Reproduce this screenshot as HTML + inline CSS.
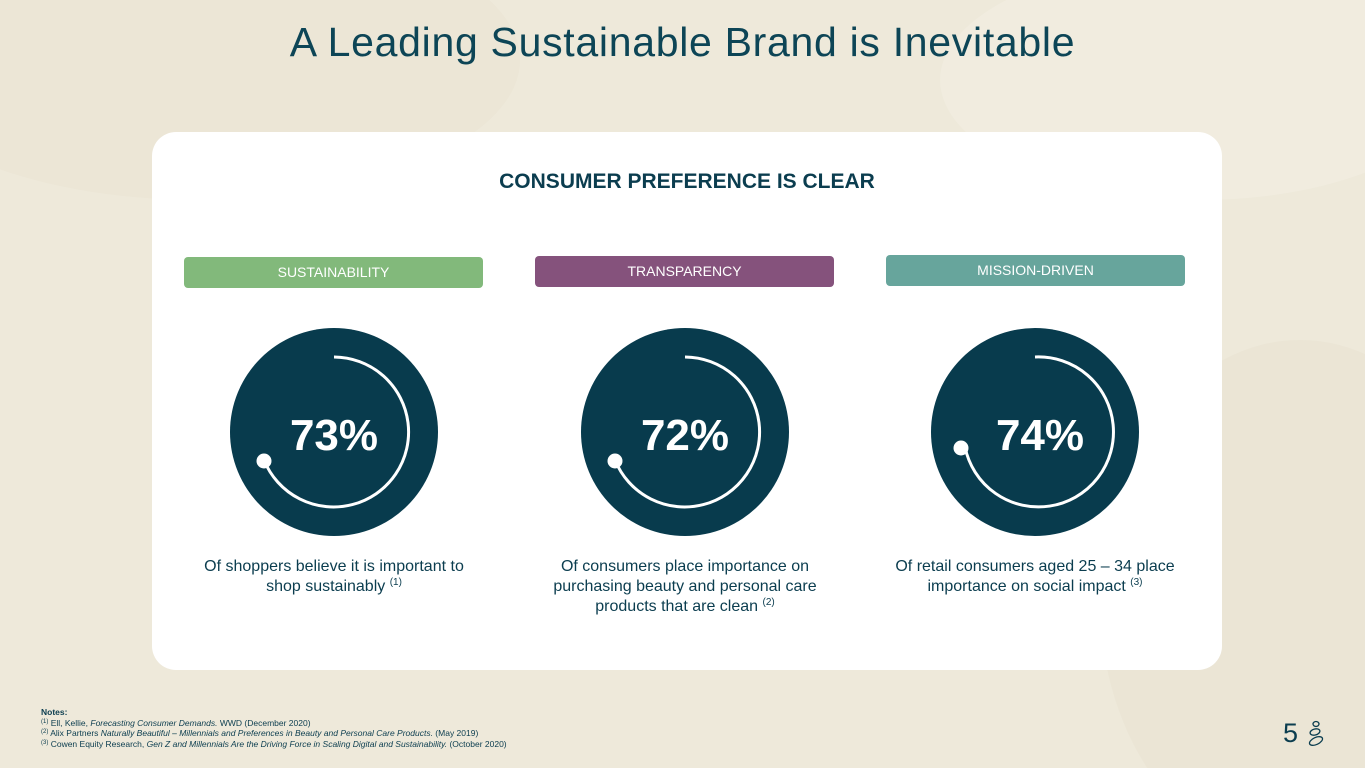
<!DOCTYPE html>
<html style="overflow:hidden"><head><meta charset="utf-8"><style>
body{margin:0;width:1365px;height:768px;overflow:hidden;background:#eee9da;font-family:"Liberation Sans",sans-serif;position:relative}
.abs{position:absolute}
svg{display:block}
h1{position:absolute;top:19px;left:0;width:1365px;text-align:center;margin:0;font-weight:normal;font-size:41px;color:#0d4556;letter-spacing:0.7px}
.card{left:152px;top:132px;width:1070px;height:538px;background:#fff;border-radius:24px}
.tag{height:31px;width:299px;border-radius:4px;color:#fff;font-size:14px;text-align:center;line-height:31px}
.desc{width:300px;text-align:center;color:#0b3d4f;font-size:16px;line-height:20px}
sup{font-size:10px;line-height:0;vertical-align:6px}
.notes{left:41px;top:707px;font-size:8.5px;color:#0b3d4f;line-height:10.5px;white-space:nowrap}
.notes sup{font-size:6px;vertical-align:3px}
</style></head><body>
<svg class="abs" style="left:0;top:0" width="1365" height="768">
<ellipse cx="200" cy="60" rx="320" ry="140" fill="#e9e3d2" opacity=".5"/>
<ellipse cx="1200" cy="80" rx="260" ry="120" fill="#f3efe4" opacity=".5"/>
<ellipse cx="1300" cy="600" rx="200" ry="260" fill="#e8e2d0" opacity=".5"/>
</svg>
<h1>A Leading Sustainable Brand is Inevitable</h1>
<div class="abs card"></div>
<div class="abs" style="left:152px;width:1070px;top:170px;text-align:center;font-weight:bold;font-size:21px;color:#0b3d4f">CONSUMER PREFERENCE IS CLEAR</div>
<div class="abs tag" style="left:184px;top:257px;background:#82b97b">SUSTAINABILITY</div>
<div class="abs tag" style="left:535px;top:256px;background:#85527c">TRANSPARENCY</div>
<div class="abs tag" style="left:886px;top:255px;background:#67a59c">MISSION-DRIVEN</div>
<svg class="abs" style="left:0;top:0" width="1365" height="768">
<g font-family="Liberation Sans" font-weight="bold" font-size="44" fill="#fff" text-anchor="middle">
<circle cx="334" cy="432" r="104" fill="#083b4d"/>
<path d="M334,357 A75,75 0 1 1 264,460" fill="none" stroke="#fff" stroke-width="3"/>
<circle cx="264" cy="461" r="7.5" fill="#fff"/>
<text x="334" y="450">73%</text>
<circle cx="685" cy="432" r="104" fill="#083b4d"/>
<path d="M685,357 A75,75 0 1 1 615,460" fill="none" stroke="#fff" stroke-width="3"/>
<circle cx="615" cy="461" r="7.5" fill="#fff"/>
<text x="685" y="450">72%</text>
<circle cx="1035" cy="432" r="104" fill="#083b4d"/>
<path d="M1035,357 A75,75 0 1 1 965,447" fill="none" stroke="#fff" stroke-width="3"/>
<circle cx="961" cy="448" r="7.5" fill="#fff"/>
<text x="1040" y="450">74%</text>
</g></svg>
<div class="abs desc" style="left:189px;top:557px;width:290px">Of shoppers believe it is important to shop sustainably <sup>(1)</sup></div>
<div class="abs desc" style="left:535px;top:557px">Of consumers place importance on purchasing beauty and personal care products that are clean <sup>(2)</sup></div>
<div class="abs desc" style="left:880px;top:557px;width:310px">Of retail consumers aged 25 – 34 place importance on social impact <sup>(3)</sup></div>
<div class="abs notes"><b>Notes:</b><br><sup>(1)</sup> Ell, Kellie, <i>Forecasting Consumer Demands.</i> WWD (December 2020)<br><sup>(2)</sup> Alix Partners <i>Naturally Beautiful – Millennials and Preferences in Beauty and Personal Care Products.</i> (May 2019)<br><sup>(3)</sup> Cowen Equity Research, <i>Gen Z and Millennials Are the Driving Force in Scaling Digital and Sustainability.</i> (October 2020)</div>
<div class="abs" style="left:1283px;top:718px;font-size:27px;line-height:30px;color:#0b3d4f">5</div>
<svg class="abs" style="left:1305px;top:720px" width="24" height="28"><g fill="none" stroke="#0b3d4f" stroke-width="1.3"><ellipse cx="11" cy="4" rx="3" ry="2.5"/><ellipse cx="10" cy="12" rx="5" ry="3" transform="rotate(-15 10 12)"/><ellipse cx="11" cy="21" rx="7" ry="3.5" transform="rotate(-25 11 21)"/></g></svg>
</body></html>
